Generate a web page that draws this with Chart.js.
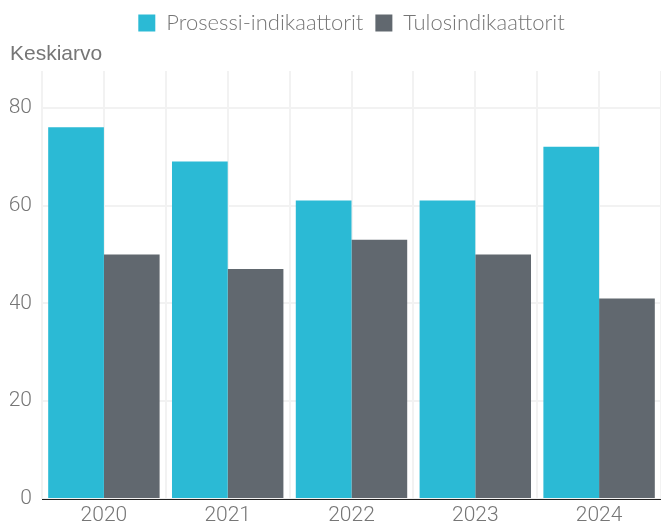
<!DOCTYPE html>
<html>
<head>
<meta charset="utf-8">
<script src="https://cdn.jsdelivr.net/npm/chart.js@4"></script>
<style>
	html, body { margin: 0; padding: 0; background: #fff; }
	#wrap { width: 661px; height: 529px; }
</style>
</head>
<body>
<div id="wrap"><canvas id="chart-bar"></canvas></div>
<script>
// Data
const years = ['2020', '2021', '2022', '2023', '2024'];
const prosessi = [76, 69, 61, 61, 72];
const tulos = [50, 47, 53, 50, 41];
const seriesNames = ['Prosessi-indikaattorit', 'Tulosindikaattorit'];
const yTitle = 'Keskiarvo';

const textGrey = '#767676';
const gridGrey = '#f2f2f2';

// legend sits centred over the plot, not over the whole canvas
const legendShift = {
	id: 'legendShift',
	beforeDraw(chart) {
		const lg = chart.legend;
		if (!lg || lg._shifted) return;
		const dx = (chart.chartArea.left + chart.chartArea.right) / 2 - (lg.left + lg.right) / 2;
		lg.left += dx;
		lg.right += dx;
		lg._shifted = true;
	},
	afterUpdate(chart) {
		if (chart.legend) chart.legend._shifted = false;
	},
};

!(function () {
	const ctx = document.getElementById('chart-bar');

	new Chart(ctx, {
		type: 'bar',
		data: {
			labels: years,
			datasets: [
				{
					label: seriesNames[0],
					data: prosessi,
					backgroundColor: '#2bbad5',
					categoryPercentage: 0.9,
					barPercentage: 1.0,
				},
				{
					label: seriesNames[1],
					data: tulos,
					backgroundColor: '#61686f',
					categoryPercentage: 0.9,
					barPercentage: 1.0,
				},
			],
		},
		options: {
			responsive: true,
			maintainAspectRatio: false,
			animation: false,
			layout: {
				padding: { left: 10, right: 0, top: 0, bottom: 0 },
			},
			scales: {
				x: {
					grid: {
						color: gridGrey,
						lineWidth: 2,
						offset: false,
						drawTicks: false,
					},
					border: { color: '#222', width: 1 },
					ticks: {
						color: textGrey,
						font: { family: 'Roboto', size: 21, weight: 300 },
						padding: 4,
					},
					afterFit: (scale) => { scale.height = 30; },
				},
				// second category axis only for the lines between the year groups
				xb: {
					type: 'category',
					position: 'bottom',
					grid: {
						color: gridGrey,
						lineWidth: 2,
						offset: true,
						drawTicks: false,
					},
					border: { display: false },
					ticks: { display: false },
					afterFit: (scale) => { scale.height = 0; },
				},
				y: {
					min: 0,
					max: 87.5,
					grid: {
						color: gridGrey,
						lineWidth: 2,
						drawTicks: false,
					},
					border: { display: false },
					ticks: {
						stepSize: 20,
						includeBounds: false,
						color: textGrey,
						font: { family: 'Roboto', size: 21, weight: 300 },
						padding: 10,
					},
					afterFit: (scale) => { scale.width = 32; },
				},
			},
			plugins: {
				legend: {
					position: 'top',
					labels: {
						boxWidth: 17,
						boxHeight: 17,
						padding: 12,
						color: textGrey,
						font: { family: 'Lato', size: 22, weight: 300 },
					},
				},
				title: {
					display: true,
					text: yTitle,
					align: 'start',
					weight: 500,
					color: textGrey,
					font: { family: 'Liberation Sans', size: 21, weight: 'normal', lineHeight: 1 },
					padding: { top: 0, bottom: 6 },
				},
				tooltip: { enabled: false },
			},
		},
		plugins: [legendShift],
	});
})();
</script>
</body>
</html>
